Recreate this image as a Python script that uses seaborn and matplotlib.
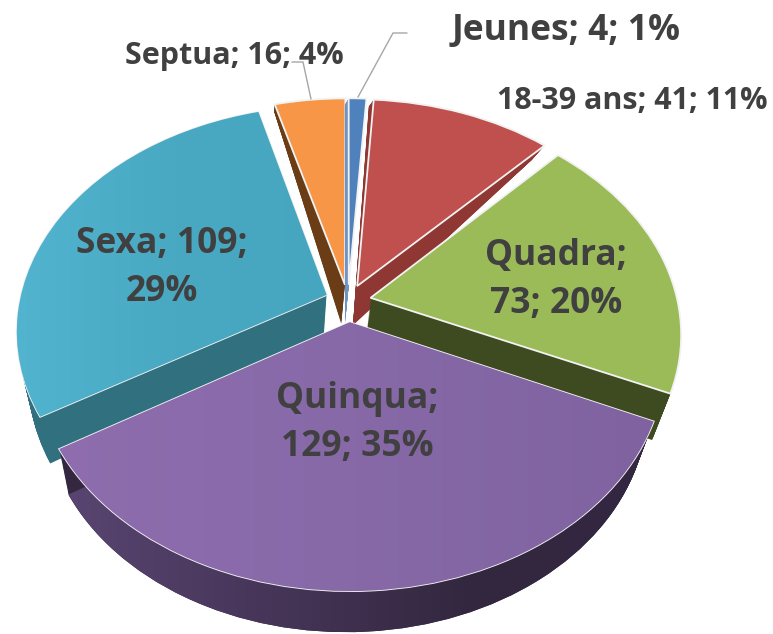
import matplotlib
matplotlib.use("Agg")
import numpy as np
import matplotlib.pyplot as plt
import matplotlib.transforms as mtransforms
import seaborn as sns

# valeurs
categories = ["Jeunes", "18-39 ans", "Quadra", "Quinqua", "Sexa", "Septua"]
values = [4, 41, 73, 129, 109, 16]
percents = [1, 11, 20, 35, 29, 4]
top_colors = ["#4f81bd", "#c0504d", "#9bbb59", "#8064a2", "#4bacc6", "#f79646"]
side_colors = ["#6f94c4", "#8f3733", "#3e4a20", "#342840", "#31707f", "#6a3d17"]
explode = [0.075, 0.075, 0.075, 0.095, 0.075, 0.075]
# ordre de dessin, du fond vers l'avant
draw_order = [5, 0, 1, 4, 2, 3]

CX, CY, RX, RY, K = 348, 301, 307, 220, 0.155


class Perspective(mtransforms.Transform):
    input_dims = output_dims = 2

    def __init__(self, z=0.0):
        super().__init__()
        self.z = z

    def transform_non_affine(self, xy):
        xy = np.asarray(xy, dtype=float)
        s = 1.0 / (1.0 + K * xy[:, 1])
        px = CX + RX * xy[:, 0] * s
        px = px - self.z * 0.045 * (px - 264)
        # epaisseur du flanc selon la profondeur
        h = np.interp(xy[:, 1], [-1.1, -0.45, 0, 0.5, 1.1], [41, 47, 42, 22, 6])
        py = CY - RY * xy[:, 1] * s + self.z * h
        return np.column_stack([px, py])


def pie_layer(colors, z, **kw):
    wedges, _ = ax.pie(values, explode=explode, startangle=90, counterclock=False,
                       colors=sns.color_palette(colors), **kw)
    for i, w in enumerate(wedges):
        w.set_transform(Perspective(z) + ax.transData)
        w.set_zorder(rank[i] + (1 if z == 0 else 0))
    return wedges


def gradient(wedge, colors, extent, zorder):
    cmap = sns.blend_palette(colors, as_cmap=True)
    im = ax.imshow(np.linspace(0, 1, 256)[None, :], cmap=cmap, extent=extent,
                   aspect="auto", zorder=zorder)
    im.set_clip_path(wedge)


sns.set_theme(style="white")
plt.rcParams["font.family"] = ["Open Sans", "DejaVu Sans"]

fig = plt.figure(figsize=(7.73, 6.34), dpi=100)
ax = fig.add_axes([0, 0, 1, 1])
rank = {i: n * 2 + 1 for n, i in enumerate(draw_order)}

# flancs : la meme tarte repetee vers le bas
for z in np.linspace(1, 0.02, 40):
    bottom = pie_layer(side_colors, z, wedgeprops=dict(linewidth=0))
    if z == 1:
        last = bottom

# dessus
top = pie_layer(top_colors, 0, wedgeprops=dict(edgecolor="#f2f2f2", linewidth=1.3))

# degrades
gradient(last[3], ["#5a4673", "#47365a", "#342840", "#322640"], (50, 670, 640, 400), rank[3] + 0.5)
gradient(top[3], ["#8f6dae", "#8769a8", "#7f629f"], (50, 660, 600, 320), rank[3] + 1.5)
gradient(top[4], ["#52b4cf", "#49a9c3", "#46a5bf"], (10, 340, 430, 100), rank[4] + 1.5)

ax.set_aspect("auto")
ax.set_xlim(0, 773)
ax.set_ylim(634, 0)
ax.axis("off")

# lignes de rappel
ax.plot([358, 393, 407], [97, 33, 33], color="#a6a6a6", lw=1.0, zorder=20)
ax.plot([311, 303, 292], [99, 62, 62], color="#a6a6a6", lw=1.0, zorder=20)

txt = "#404040"
big = dict(fontsize=25.5, fontweight="bold", color=txt, ha="center", va="center",
           zorder=21, linespacing=1.42)
small = dict(fontsize=22, fontweight="bold", color=txt, ha="center", va="center", zorder=21)
ax.text(566, 31, f"{categories[0]}; {values[0]}; {percents[0]}%", **big)
ax.text(632, 101, f"{categories[1]}; {values[1]}; {percents[1]}%", **small)
ax.text(234, 56, f"{categories[5]}; {values[5]}; {percents[5]}%", **small)
ax.text(556, 280, f"{categories[2]};\n{values[2]}; {percents[2]}%", **big)
ax.text(357, 423, f"{categories[3]};\n{values[3]}; {percents[3]}%", **big)
ax.text(162, 268, f"{categories[4]}; {values[4]};\n{percents[4]}%", **big)

fig.savefig("out.png", dpi=100, facecolor="white")
